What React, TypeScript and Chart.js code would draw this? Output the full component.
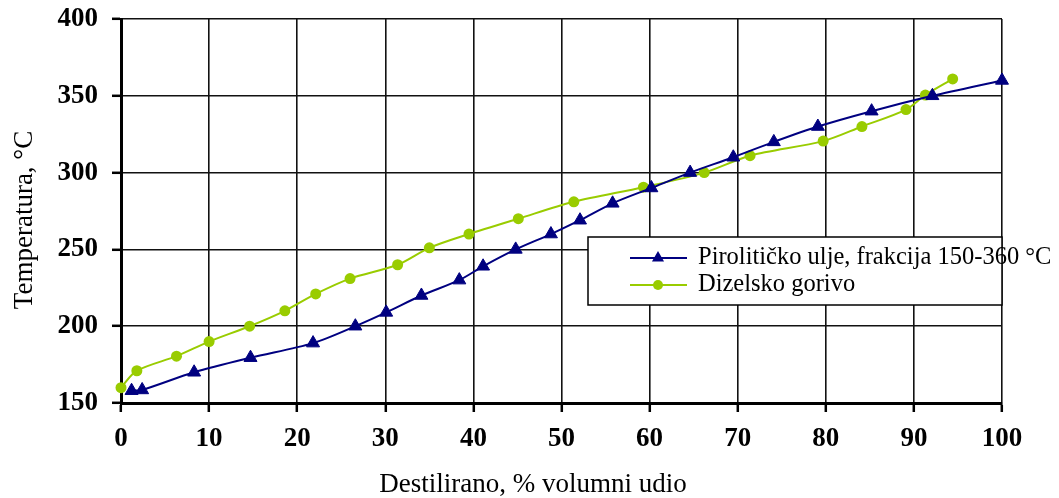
import React, { useEffect, useRef } from 'react';
import { Chart, registerables } from 'chart.js';

Chart.register(...registerables);

// Pirolitičko ulje, frakcija 150-360 °C
const pyroX = [1.2, 2.4, 8.3, 14.7, 21.8, 26.6, 30.1, 34.1, 38.4, 41.1, 44.8, 48.8, 52.1, 55.8, 60.2, 64.6, 69.5, 74.1, 79.1, 85.2, 92.1, 100];
const pyroY = [158, 158.5, 170, 179.5, 189, 200, 209, 220, 230, 239, 250, 260, 269, 280, 290, 300, 310, 320, 330, 340, 350, 360];
// Dizelsko gorivo
const dieselX = [0, 1.8, 6.3, 10, 14.6, 18.6, 22.1, 26, 31.4, 35, 39.5, 45.1, 51.4, 59.3, 66.2, 71.4, 79.7, 84.1, 89.1, 91.3, 94.4];
const dieselY = [160, 171, 180.5, 190, 200, 210, 221, 231, 240, 251, 260, 270, 281, 290.5, 300, 311, 320.5, 330, 341, 350.5, 361];

const seriesNames = ['Pirolitičko ulje, frakcija 150-360 °C', 'Dizelsko gorivo'];
const xTitle = 'Destilirano, % volumni udio';
const yTitle = 'Temperatura, °C';

const BLUE = '#000080';
const GREEN = '#99cc00';
const SERIF = "'Liberation Serif', 'Times New Roman', serif";

const zip = (xs: number[], ys: number[]) => xs.map((x, i) => ({ x, y: ys[i] }));

const overlayPlugin = {
  id: 'overlay',
  afterDraw(chart: any) {
    const { ctx, chartArea } = chart;
    ctx.save();
    // axis titles
    ctx.fillStyle = '#000';
    ctx.font = `27px ${SERIF}`;
    ctx.textAlign = 'center';
    ctx.textBaseline = 'middle';
    ctx.fillText(xTitle, chartArea.left + 412, chartArea.bottom + 82);
    ctx.save();
    ctx.translate(25, chartArea.top + 201);
    ctx.rotate(-Math.PI / 2);
    ctx.fillText(yTitle, 0, 0);
    ctx.restore();

    // legend
    const bx = chartArea.left + 467;
    const by = chartArea.top + 218;
    const bw = chartArea.right - bx;
    const bh = 68;
    ctx.fillStyle = '#fff';
    ctx.fillRect(bx, by, bw, bh);
    ctx.strokeStyle = '#000';
    ctx.lineWidth = 1.5;
    ctx.strokeRect(bx, by, bw, bh);

    const rows = [
      { name: seriesNames[0], color: BLUE, style: 'triangle', y: by + 21 },
      { name: seriesNames[1], color: GREEN, style: 'circle', y: by + 48 },
    ];
    rows.forEach((r) => {
      ctx.strokeStyle = r.color;
      ctx.lineWidth = 2;
      ctx.beginPath();
      ctx.moveTo(bx + 42, r.y);
      ctx.lineTo(bx + 99, r.y);
      ctx.stroke();
      const cx = bx + 70;
      ctx.fillStyle = r.color;
      ctx.beginPath();
      if (r.style === 'triangle') {
        const rad = 7;
        ctx.moveTo(cx, r.y - rad);
        ctx.lineTo(cx + rad * 0.866, r.y + rad * 0.5);
        ctx.lineTo(cx - rad * 0.866, r.y + rad * 0.5);
        ctx.closePath();
      } else {
        ctx.arc(cx, r.y, 5, 0, Math.PI * 2);
      }
      ctx.fill();
      ctx.fillStyle = '#000';
      ctx.font = `24.5px ${SERIF}`;
      ctx.textAlign = 'left';
      ctx.textBaseline = 'middle';
      ctx.fillText(r.name, bx + 110, r.y);
    });
    ctx.restore();
  },
};

export default function App() {
  const ref = useRef<HTMLCanvasElement | null>(null);

  useEffect(() => {
    document.body.style.margin = '0';
    const canvas = ref.current;
    if (!canvas) return;
    const chart = new Chart(canvas, {
      type: 'line',
      data: {
        datasets: [
          {
            label: seriesNames[0],
            data: zip(pyroX, pyroY),
            borderColor: BLUE,
            backgroundColor: BLUE,
            borderWidth: 2,
            pointStyle: 'triangle',
            pointRadius: 7.5,
            pointBorderWidth: 1,
            pointBackgroundColor: BLUE,
            pointBorderColor: BLUE,
            tension: 0.3,
            clip: false,
          },
          {
            label: seriesNames[1],
            data: zip(dieselX, dieselY),
            borderColor: GREEN,
            backgroundColor: GREEN,
            borderWidth: 2,
            pointStyle: 'circle',
            pointRadius: 5.5,
            pointBorderWidth: 0,
            pointBackgroundColor: GREEN,
            pointBorderColor: GREEN,
            tension: 0.3,
            clip: false,
          },
        ],
      },
      options: {
        responsive: false,
        animation: false,
        layout: { padding: { left: 0, top: 19, right: 57, bottom: 0 } },
        plugins: {
          legend: { display: false },
          tooltip: { enabled: false },
          title: { display: false },
        },
        scales: {
          x: {
            type: 'linear',
            min: 0,
            max: 100,
            afterFit: (s: any) => {
              s.height = 95;
              s.paddingLeft = 0;
              s.paddingRight = 0;
            },
            ticks: {
              stepSize: 10,
              color: '#000',
              padding: 11,
              font: { family: SERIF, size: 27, weight: 'bold' },
            },
            grid: { color: '#111', lineWidth: 1.6, tickLength: 9, tickColor: '#000', tickWidth: 2.5 },
            border: { color: '#000', width: 3 },
          },
          y: {
            type: 'linear',
            min: 150,
            max: 400,
            afterFit: (s: any) => {
              s.width = 121;
              s.paddingTop = 0;
              s.paddingBottom = 0;
            },
            ticks: {
              stepSize: 50,
              color: '#000',
              padding: 14,
              font: { family: SERIF, size: 27, weight: 'bold' },
            },
            grid: { color: '#111', lineWidth: 1.6, tickLength: 9, tickColor: '#000', tickWidth: 2.5 },
            border: { color: '#000', width: 3 },
          },
        },
      },
      plugins: [overlayPlugin],
    } as any);
    return () => chart.destroy();
  }, []);

  return <canvas ref={ref} width={1059} height={498} style={{ display: 'block', width: 1059, height: 498 }} />;
}
